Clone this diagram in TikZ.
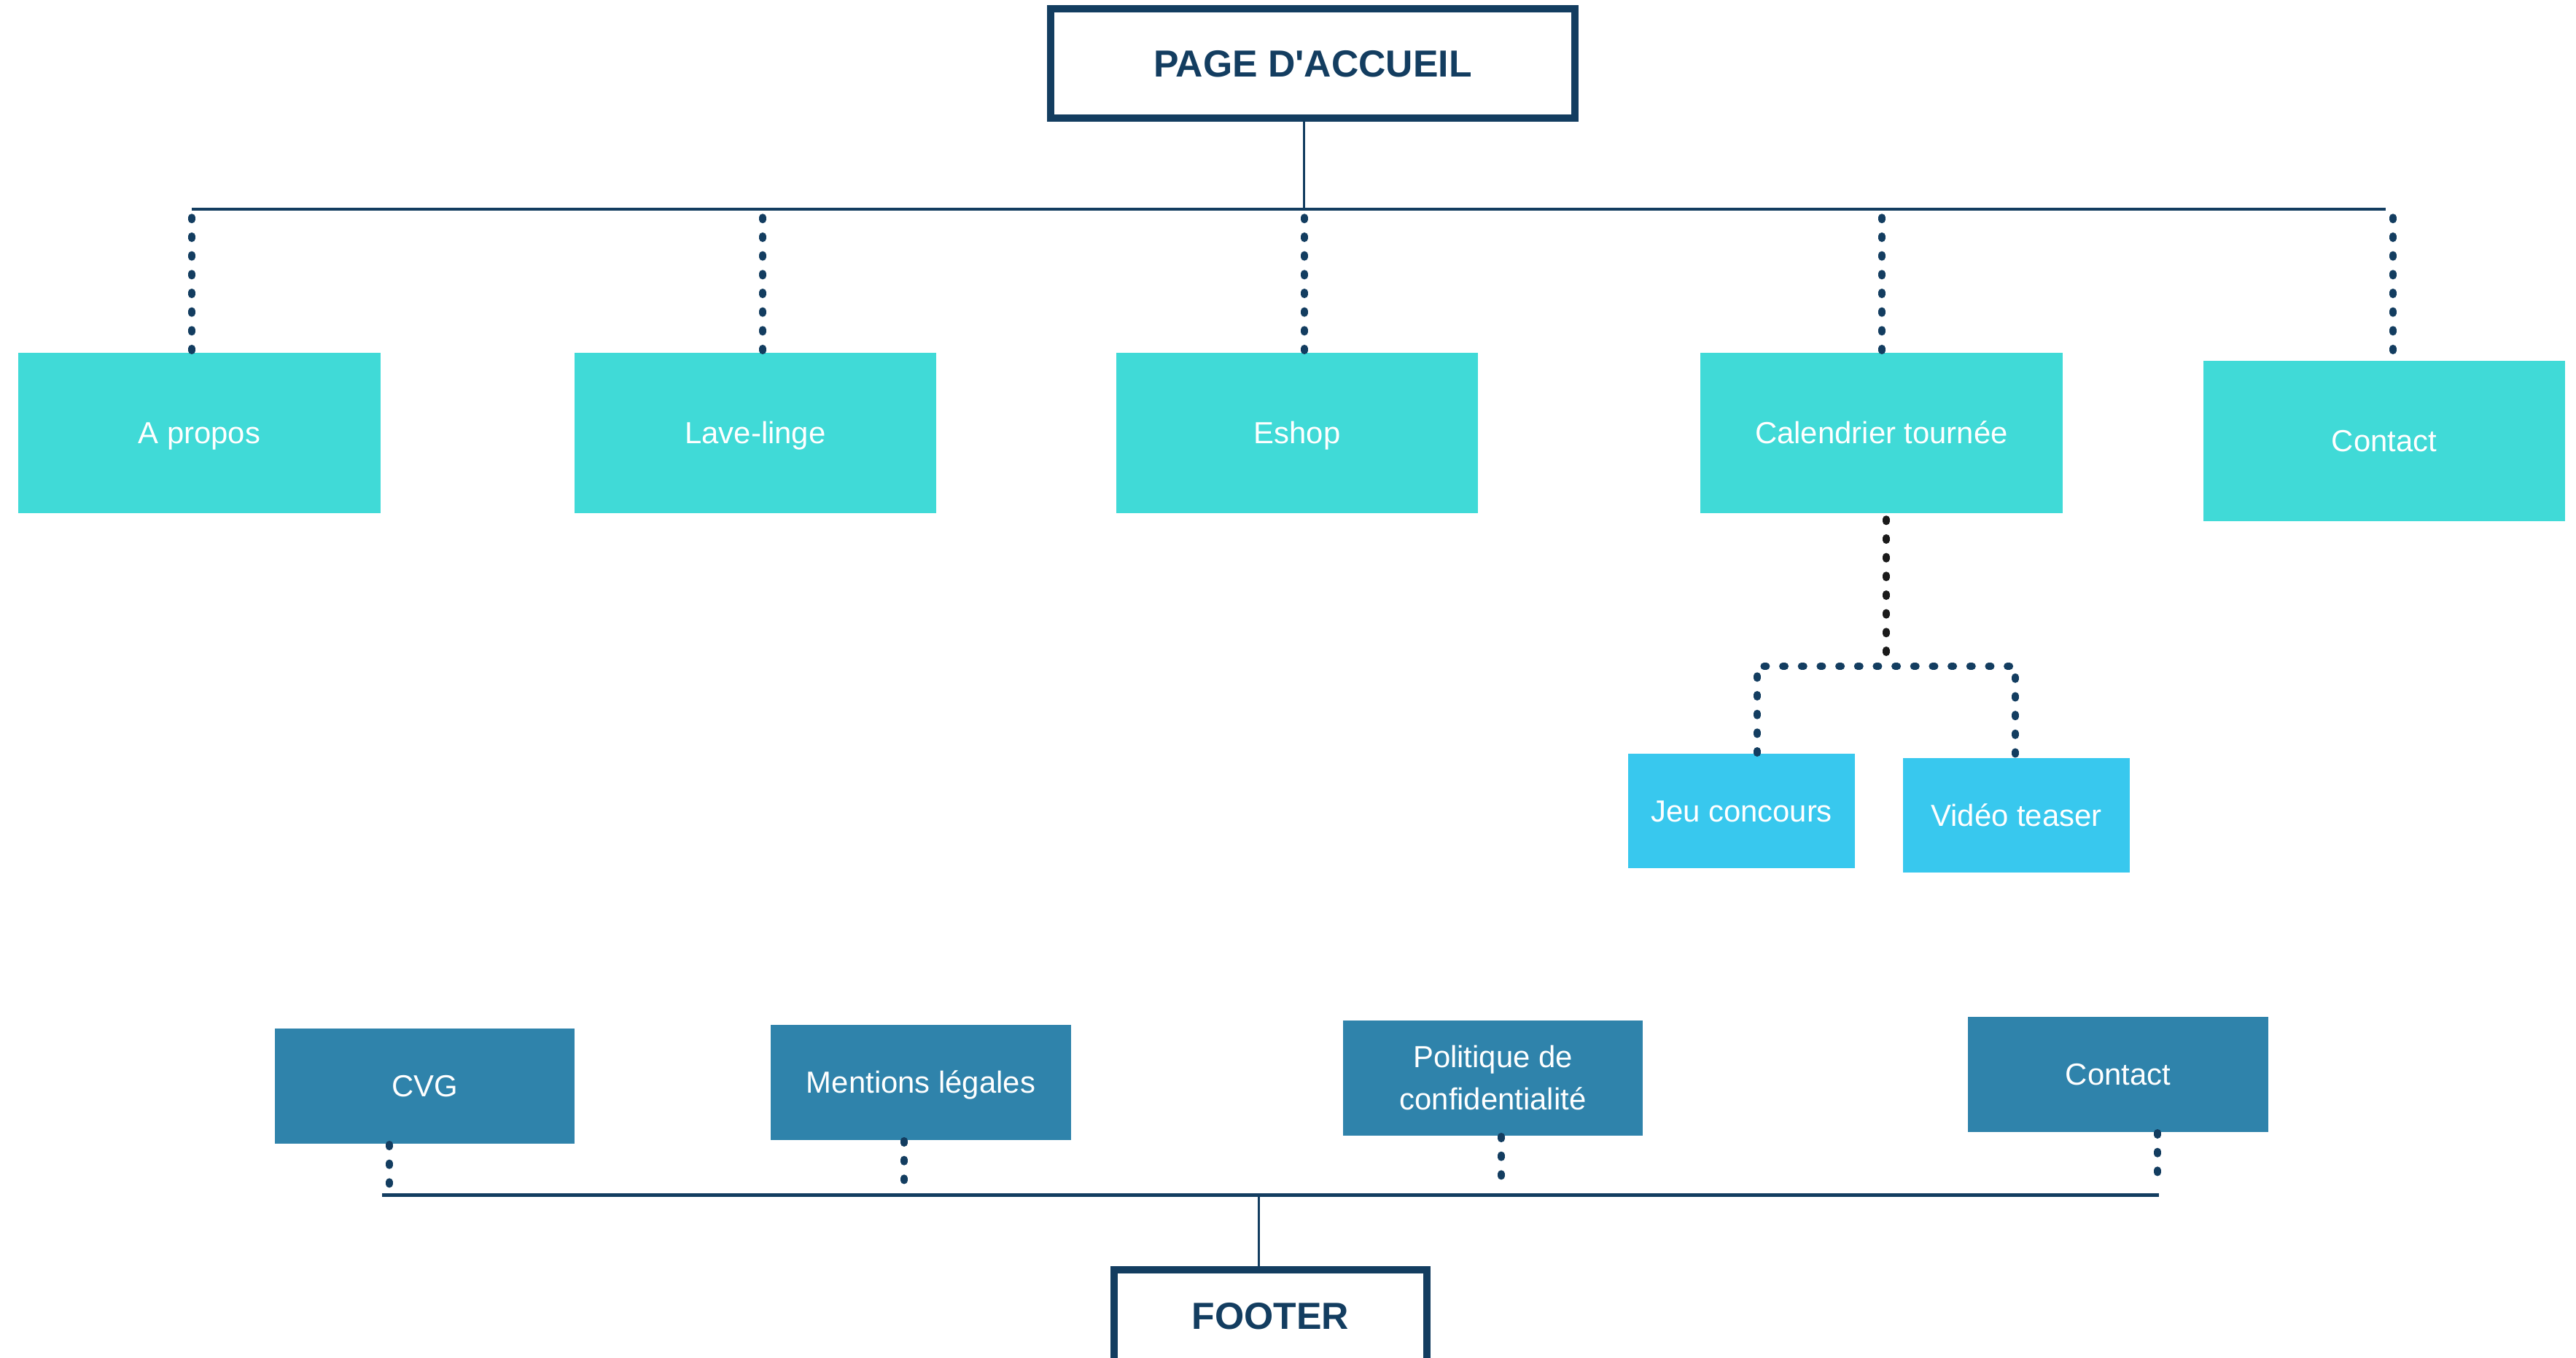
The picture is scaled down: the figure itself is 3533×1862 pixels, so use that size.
\documentclass[tikz,border=0pt]{standalone}
\usepackage{fontspec}
\setmainfont{Liberation Sans}
\newfontfamily\headfont{Liberation Sans}
\usepackage{tikz}
\definecolor{navy}{HTML}{133D60}
\definecolor{turq}{HTML}{40DAD7}
\definecolor{sky}{HTML}{38C8EE}
\definecolor{steel}{HTML}{2F83AB}
\definecolor{ink}{HTML}{1A1A1A}
\begin{document}
\begin{tikzpicture}[x=0.01cm, y=-0.01cm,
  headbox/.style={draw=navy, line width=2.85pt, text=navy, fill=white, inner sep=0pt,
    text height=10.5pt, text depth=0pt, font=\headfont\fontsize{14.7}{17}\selectfont\bfseries},
  pagebox/.style={fill=turq, text=white, inner sep=0pt, text height=8.5pt, text depth=0pt,
    minimum width=4.96cm, minimum height=2.2cm},
  subbox/.style={fill=sky, text=white, inner sep=0pt, text height=8.5pt, text depth=0pt,
    minimum width=3.11cm, minimum height=1.57cm},
  footbox/.style={fill=steel, text=white, inner sep=0pt, text height=8.5pt, text depth=0pt,
    align=center, minimum width=4.11cm, minimum height=1.58cm},
  bus/.style={navy, line width=1.4pt},
  stem/.style={navy, line width=0.85pt},
  dotline/.style={navy, line width=2.7pt, line cap=round, dash pattern=on 1pt off 6.3pt}]
%
\fontsize{11.9}{16.5}\selectfont
\useasboundingbox (0,0) rectangle (3533,1862);
%
\node (accueil) [headbox, minimum width=7.19cm, minimum height=1.5cm] at (1800.5,87) {PAGE D'ACCUEIL};
\node (apropos) [pagebox] at (273.5,594) {A propos};
\node (lavelinge) [pagebox] at (1036,594) {Lave-linge};
\node (eshop) [pagebox] at (1779,594) {Eshop};
\node (calendrier) [pagebox] at (2580.5,594) {Calendrier tourn\'ee};
\node (contact) [pagebox] at (3270,605) {Contact};
%
\node (jeu) [subbox] at (2388.5,1112.5) {Jeu concours};
\node (video) [subbox] at (2765.5,1118.5) {Vid\'eo teaser};
%
\node (cvg) [footbox] at (582.5,1490) {CVG};
\node (mentions) [footbox] at (1263,1485) {Mentions l\'egales};
\node (politique) [footbox, text height=25pt] at (2047.5,1479) {Politique de\\confidentialit\'e};
\node (fcontact) [footbox] at (2905,1474) {Contact};
\node (footer) [headbox, minimum width=4.29cm, minimum height=1.26cm] at (1742.5,1805) {FOOTER};
%
\coordinate (busL) at (263,287);
\coordinate (busR) at (3272,287);
\coordinate (fork) at (2587,914);
\coordinate (fbusL) at (524,1639);
\coordinate (fbusR) at (2961,1639);
%
\draw[stem] ([xshift=-0.125cm]accueil.south) -- ([xshift=-0.125cm]accueil.south |- busL);
\draw[bus] (busL) -- (busR);
\draw[dotline] (263,298) -- (263,484);
\draw[dotline] (1046,298) -- (lavelinge.north -| 1046,0);
\draw[dotline] (1789,298) -- (eshop.north -| 1789,0);
\draw[dotline] (2581,298) -- (calendrier.north -| 2581,0);
\draw[dotline] (3282,298) -- (contact.north -| 3282,0);
%
\draw[dotline, ink] (2587,712) -- (2587,896);
\draw[dotline] ([xshift=0.215cm]jeu.north) |- (fork) -| ([xshift=-0.015cm]video.north);
%
\draw[dotline] ([xshift=-0.485cm]cvg.south) -- ++(0,61);
\draw[dotline] ([xshift=-0.23cm]mentions.south) -- ++(0,56);
\draw[dotline] ([xshift=0.115cm]politique.south) -- ++(0,72);
\draw[dotline] ([xshift=0.54cm]fcontact.south) -- ++(0,77);
\draw[bus] (fbusL) -- (fbusR);
\draw[stem] ([xshift=-0.165cm]footer.north) -- ([xshift=-0.165cm]footer.north |- fbusL);
\end{tikzpicture}
\end{document}
